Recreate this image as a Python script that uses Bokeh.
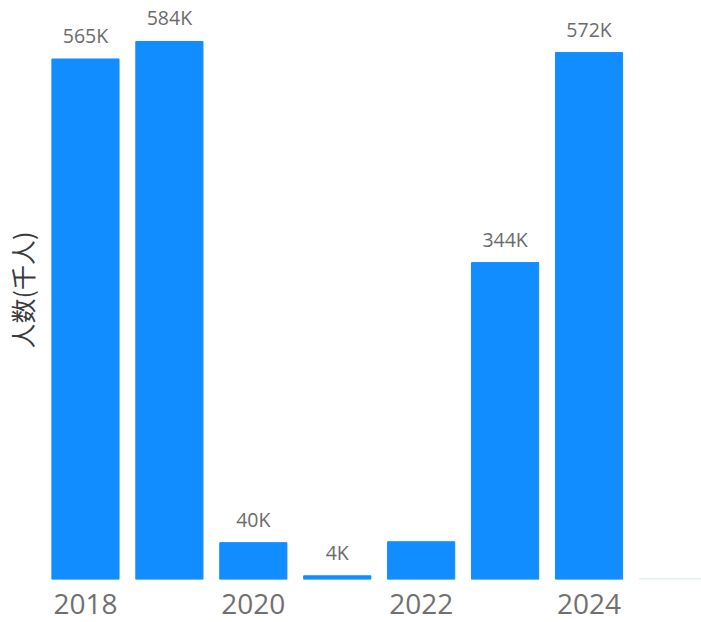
from bokeh.plotting import figure
from bokeh.models import Range1d, FixedTicker, ColumnDataSource
from bokeh.embed import file_html
from bokeh.resources import INLINE
from bokeh.core.properties import value

years = [2018, 2019, 2020, 2021, 2022, 2023, 2024, 2025]
people_k = [565, 584, 40, 4, 41, 344, 572, 1]
value_labels = ["565K", "584K", "40K", "4K", "", "344K", "572K", ""]
bar_colors = ["#118DFF"] * 7 + ["#E3EFFC"]
tick_years = [2018, 2020, 2022, 2024]

src = ColumnDataSource(dict(x=years, y=people_k, lab=value_labels, c=bar_colors))

p = figure(width=701, height=622, output_backend="svg", toolbar_location=None,
           x_range=Range1d(2017.5, 2025.34), y_range=Range1d(0, 628.5),
           min_border_left=42, min_border_right=0, min_border_top=0, min_border_bottom=43)
p.outline_line_color = None
p.xgrid.visible = False
p.ygrid.visible = False
p.background_fill_color = "white"

p.vbar(x="x", top="y", width=0.8, color="c", source=src)
p.text(x="x", y="y", text="lab", source=src, text_align="center", text_baseline="bottom",
       y_offset=-10, text_font=value("Open Sans"), text_font_size="19.5px", text_color="#6b6b6b")

p.xaxis.ticker = FixedTicker(ticks=tick_years)
p.xaxis.axis_line_color = None
p.xaxis.major_tick_line_color = None
p.xaxis.minor_tick_line_color = None
p.xaxis.major_label_text_font = "Open Sans"
p.xaxis.major_label_text_font_size = "28px"
p.xaxis.major_label_text_color = "#707070"
p.xaxis.major_label_standoff = 8

p.yaxis.ticker = FixedTicker(ticks=[])
p.yaxis.axis_line_color = None
p.yaxis.major_tick_line_color = None
p.yaxis.minor_tick_line_color = None
p.yaxis.major_label_standoff = 0
p.yaxis.axis_label = "人数(千人)"
p.yaxis.axis_label_text_font = "Noto Sans CJK SC"
p.yaxis.axis_label_text_font_size = "25px"
p.yaxis.axis_label_text_font_style = "normal"
p.yaxis.axis_label_text_color = "#3a3a3a"
p.yaxis.axis_label_standoff = 4

open("out.html", "w").write(file_html(p, INLINE))
